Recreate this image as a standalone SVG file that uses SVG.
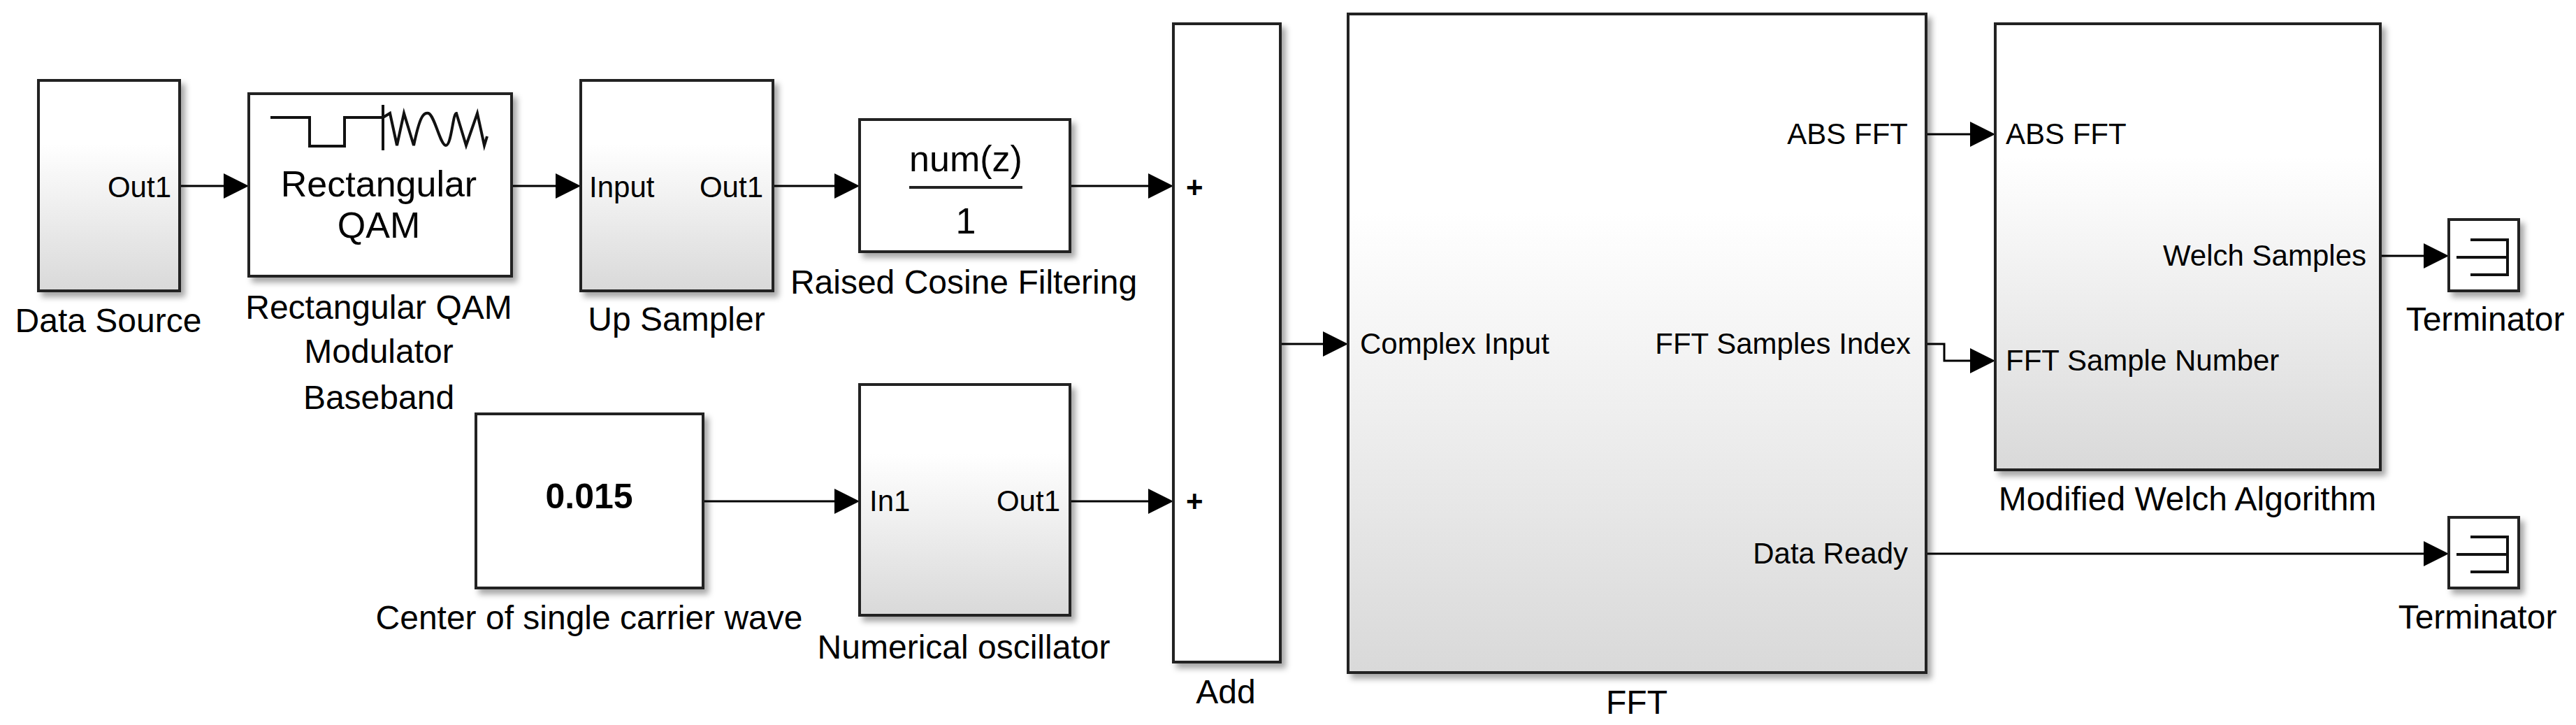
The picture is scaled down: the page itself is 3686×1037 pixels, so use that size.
<svg xmlns="http://www.w3.org/2000/svg" width="3686" height="1037" viewBox="0 0 3686 1037">
<defs>
<linearGradient id="g" x1="0" y1="0" x2="0" y2="1"><stop offset="0.3" stop-color="#ffffff"/><stop offset="1" stop-color="#d9d9d9"/></linearGradient>
<filter id="sh" x="-10%" y="-10%" width="130%" height="130%"><feDropShadow dx="6" dy="7" stdDeviation="4" flood-color="#000" flood-opacity="0.35"/></filter>
</defs>
<style>
.b{stroke:#222;stroke-width:4;filter:url(#sh)}
.gr{fill:url(#g)}
.wh{fill:#fff}
text{font-family:"Liberation Sans",Arial,sans-serif;fill:#000}
.p{font-size:42px}
.n{font-size:48px;text-anchor:middle}
.c{fill:none;stroke:#000;stroke-width:3}
.ic{fill:none;stroke:#111;stroke-width:4}
</style>
<g id="connectors">
<path class="c" d="M257,266 H320"/><path d="M320,248 L356,266 L320,284 Z"/>
<path class="c" d="M732,266 H795"/><path d="M795,248 L831,266 L795,284 Z"/>
<path class="c" d="M1106,266 H1194"/><path d="M1194,248 L1230,266 L1194,284 Z"/>
<path class="c" d="M1531,266 H1643"/><path d="M1643,248 L1679,266 L1643,284 Z"/>
<path class="c" d="M1006,717 H1194"/><path d="M1194,699 L1230,717 L1194,735 Z"/>
<path class="c" d="M1531,717 H1643"/><path d="M1643,699 L1679,717 L1643,735 Z"/>
<path class="c" d="M1832,492 H1893"/><path d="M1893,474 L1929,492 L1893,510 Z"/>
<path class="c" d="M2756,192 H2819"/><path d="M2819,174 L2855,192 L2819,210 Z"/>
<path class="c" d="M2756,492 H2782 V516 H2819"/><path d="M2819,498 L2855,516 L2819,534 Z"/>
<path class="c" d="M3406,366 H3468"/><path d="M3468,348 L3504,366 L3468,384 Z"/>
<path class="c" d="M2756,792 H3468"/><path d="M3468,774 L3504,792 L3468,810 Z"/>
</g>
<g id="datasource"><rect class="b gr" x="55" y="115" width="202" height="301"/>
<text class="p" x="245" y="282" text-anchor="end">Out1</text>
<text class="n" x="155" y="475">Data Source</text></g>
<g id="qam"><rect class="b wh" x="356" y="134" width="376" height="261"/>
<path class="ic" d="M387,168 H443 V209 H493 V168 H548 M548,150 V215"/>
<path class="ic" d="M548,168 L558,162 L568,208 L578,162 L592,208 C600,170 605,160 613,162 C622,165 630,208 638,208 C646,208 648,162 653,162 L667,208 L683,162 L693,208 L697,195"/>
<text x="542" y="281" style="font-size:52px;text-anchor:middle">Rectangular</text>
<text x="542" y="340" style="font-size:52px;text-anchor:middle">QAM</text>
<text class="n" x="542" y="456">Rectangular QAM</text>
<text class="n" x="542" y="519">Modulator</text>
<text class="n" x="542" y="585">Baseband</text></g>
<g id="upsampler"><rect class="b gr" x="831" y="115" width="275" height="301"/>
<text class="p" x="843" y="282">Input</text>
<text class="p" x="1092" y="282" text-anchor="end">Out1</text>
<text class="n" x="968" y="473">Up Sampler</text></g>
<g id="filter"><rect class="b wh" x="1230" y="171" width="301" height="189"/>
<text x="1382" y="245" style="font-size:52px;text-anchor:middle">num(z)</text>
<path d="M1301,268 H1463" stroke="#222" stroke-width="4"/>
<text x="1382" y="334" style="font-size:52px;text-anchor:middle">1</text>
<text class="n" x="1379" y="420">Raised Cosine Filtering</text></g>
<g id="constant"><rect class="b wh" x="681" y="592" width="325" height="249"/>
<text x="843" y="727" style="font-size:50px;font-weight:bold;text-anchor:middle">0.015</text>
<text class="n" x="843" y="900">Center of single carrier wave</text></g>
<g id="nco"><rect class="b gr" x="1230" y="550" width="301" height="330"/>
<text class="p" x="1244" y="731">In1</text>
<text class="p" x="1517" y="731" text-anchor="end">Out1</text>
<text class="n" x="1379" y="942">Numerical oscillator</text></g>
<g id="add"><rect class="b wh" x="1679" y="34" width="153" height="913"/>
<text class="p" x="1697" y="282" style="font-weight:bold">+</text>
<text class="p" x="1697" y="731" style="font-weight:bold">+</text>
<text class="n" x="1754" y="1006">Add</text></g>
<g id="fft"><rect class="b gr" x="1929" y="20" width="827" height="942"/>
<text class="p" x="1946" y="506">Complex Input</text>
<text class="p" x="2730" y="206" text-anchor="end">ABS FFT</text>
<text class="p" x="2734" y="506" text-anchor="end">FFT Samples Index</text>
<text class="p" x="2730" y="806" text-anchor="end">Data Ready</text>
<text class="n" x="2342" y="1021">FFT</text></g>
<g id="welch"><rect class="b gr" x="2855" y="34" width="551" height="638"/>
<text class="p" x="2870" y="206">ABS FFT</text>
<text class="p" x="2870" y="530">FFT Sample Number</text>
<text class="p" x="3386" y="380" text-anchor="end">Welch Samples</text>
<text class="n" x="3130" y="730">Modified Welch Algorithm</text></g>
<g id="term1"><rect class="b wh" x="3504" y="314" width="100" height="102"/>
<path class="ic" d="M3535,343 H3588 V393 H3535 M3515,368 H3588"/>
<text class="n" x="3556" y="473">Terminator</text></g>
<g id="term2"><rect class="b wh" x="3504" y="740" width="100" height="101"/>
<path class="ic" d="M3535,768 H3588 V818 H3535 M3515,793 H3588"/>
<text class="n" x="3545" y="899">Terminator</text></g>
</svg>
